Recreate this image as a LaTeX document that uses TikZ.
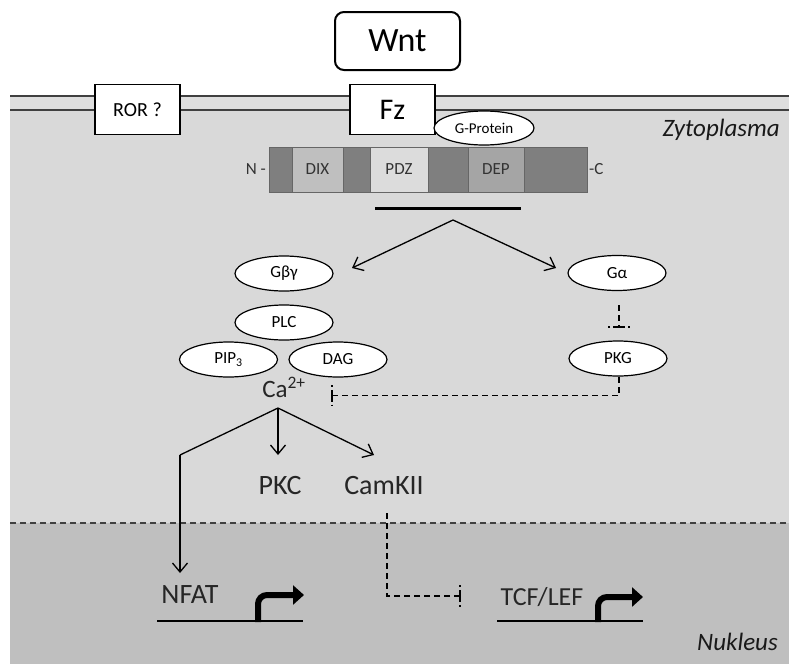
\documentclass[tikz,border=0pt]{standalone}
\usepackage{fontspec}
\setmainfont{Carlito}
\usetikzlibrary{shapes.geometric,arrows.meta}
\definecolor{cyto}{HTML}{D9D9D9}
\definecolor{nucl}{HTML}{BFBFBF}
\definecolor{memb}{HTML}{DEDEDE}
\definecolor{membline}{HTML}{404040}
\definecolor{segdark}{HTML}{7F7F7F}
\definecolor{segdix}{HTML}{BFBFBF}
\definecolor{segpdz}{HTML}{DCDCDC}
\definecolor{segdep}{HTML}{A5A5A5}
\tikzset{
  recbox/.style={draw, fill=white, line width=1.8pt, minimum width=85pt, minimum height=50pt, inner sep=0pt},
  prot/.style={ellipse, draw, fill=white, line width=1.2pt, minimum width=98pt, minimum height=35pt, inner sep=0pt, font=\fontsize{17}{19}\selectfont},
  dombox/.style={draw=segdark!80!black, line width=0.6pt, minimum height=45pt, inner sep=0pt, font=\fontsize{17}{19}\selectfont\color{black!80}},
  bigtxt/.style={inner sep=0pt, font=\fontsize{28}{30}\selectfont\color{black!85}},
  act/.style={line width=1.3pt, -{Straight Barb[length=9pt,width=15pt,line width=1.3pt]}},
  inh/.style={line width=1.5pt, dash pattern=on 6pt off 4pt},
  inhbar/.style={line width=1.5pt, dash pattern=on 6pt off 3pt},
  gene/.style={line width=2.5pt},
  tss/.style={line width=6pt, rounded corners=9pt, -{Triangle[length=11pt,width=19pt]}},
  region/.style={inner sep=0pt, font=\fontsize{25}{27}\selectfont\itshape\color{black!90}},
}
\begin{document}
\begin{tikzpicture}[x=1pt,y=-1pt]
\useasboundingbox (0,0) rectangle (789,664);
\fill[white] (0,0) rectangle (789,664);
% compartments
\fill[cyto] (10,110) rectangle (789,523);
\fill[nucl] (10,523) rectangle (789,664);
\fill[memb] (10,96) rectangle (789,110);
\draw[membline, line width=1.6pt] (10,96) -- (789,96) (10,110) -- (789,110);
\draw[membline, line width=1.3pt, dash pattern=on 6pt off 4pt] (10,523) -- (789,523);
\node[region, anchor=east] (zyto) at (780,130) {Zytoplasma};
\node[region, anchor=east] (nukl) at (778,642) {Nukleus};

% ligand and receptors
\node[draw, fill=white, line width=2pt, rounded corners=9pt, minimum width=125pt, minimum height=58pt, inner sep=0pt,
      font=\fontsize{34}{36}\selectfont] (wnt) at (397.5,41) {Wnt};
\node[recbox, font=\fontsize{20}{22}\selectfont] (ror) at (137.5,109.5) {ROR ?};
\node[recbox, font=\fontsize{30}{32}\selectfont] (fz) at (392.5,109.5) {Fz};
\node[ellipse, draw, fill=white, line width=1.2pt, minimum width=100pt, minimum height=34pt, inner sep=0pt,
      font=\fontsize{15}{17}\selectfont] (gprot) at (484,128) {G-Protein};

% Dishevelled domain bar
\node[dombox, fill=segdark, minimum width=318pt] (dvl) at (428,169.5) {};
\node[dombox, fill=segdix, minimum width=51pt] (dix) at (317.5,169.5) {DIX};
\node[dombox, fill=segpdz, minimum width=58pt] (pdz) at (399,169.5) {PDZ};
\node[dombox, fill=segdep, minimum width=56pt] (dep) at (496,169.5) {DEP};
\node[anchor=east, inner sep=0pt, font=\fontsize{17}{19}\selectfont\color{black!80}] (nterm) at (266,169.5) {N -};
\node[anchor=west, inner sep=0pt, font=\fontsize{17}{19}\selectfont\color{black!80}] (cterm) at (589,169.5) {-C};
\coordinate (barL) at (375,208);
\coordinate (barR) at (521,208);
\draw[line width=3pt] (barL) -- (barR);

% branch to the two G-protein subunits
\coordinate (fork) at (453,220);
\coordinate (tipL) at (352,268);
\coordinate (tipR) at (556,268);
\draw[act] (fork) -- (tipL);
\draw[act] (fork) -- (tipR);

\node[prot] (gbg) at (284,273.5) {Gβγ};
\node[prot] (plc) at (284,322.5) {PLC};
\node[prot] (pip) at (228.5,359.5) {PIP\textsubscript{3}};
\node[prot] (dag) at (338,359.5) {DAG};
\node[prot] (ga) at (617,273) {Gα};
\node[prot] (pkg) at (618,358.5) {PKG};
\node[inner sep=0pt, font=\fontsize{25}{27}\selectfont\color{black!85}] (ca) at (284,387) {Ca\textsuperscript{2+}};

% inhibitory links (dashed stems ending in dashed bars)
\coordinate (gaout) at (619,305);
\coordinate (pkgin) at (619,327);
\draw[inh] (gaout) -- (pkgin);
\draw[inhbar] (pkgin) -- ++(-11,0) (pkgin) -- ++(11,0);
\coordinate (pkgout) at (619,377);
\coordinate (cain) at (332,395.5);
\draw[inh] (pkgout) |- (cain);
\draw[inhbar] (cain) -- ++(0,-10.5) (cain) -- ++(0,10.5);

% calcium effectors
\coordinate (casplit) at (278,408);
\coordinate (bend) at (180,455);
\node[bigtxt] (pkc) at (280,486) {PKC};
\node[bigtxt] (camk) at (384,486) {CamKII};
\node[bigtxt] (nfat) at (190,595) {NFAT};
\node[inner sep=0pt, font=\fontsize{26}{28}\selectfont\color{black!85}] (tcf) at (542,597) {TCF/LEF};
\coordinate (nfatin) at (180,573);
\coordinate (pkcin) at (278,455);
\coordinate (camkin) at (374,455);
\draw[line width=1.3pt] (casplit) -- (bend);
\draw[act] (bend) -- (nfatin);
\draw[act] (casplit) -- (pkcin);
\draw[act] (casplit) -- (camkin);

\coordinate (camkout) at (387,513);
\coordinate (tcfin) at (460,596);
\draw[inh] (camkout) |- (tcfin);
\draw[inhbar] (tcfin) -- ++(0,-11) (tcfin) -- ++(0,11);

% target genes with transcription start arrows
\coordinate (g1a) at (157,621);
\coordinate (g1b) at (303,621);
\draw[gene] (g1a) -- (g1b);
\coordinate (s1a) at (258,622);
\coordinate (s1b) at (258,595);
\coordinate (s1c) at (304,595);
\draw[tss] (s1a) -- (s1b) -- (s1c);
\coordinate (g2a) at (497,621);
\coordinate (g2b) at (643,621);
\draw[gene] (g2a) -- (g2b);
\coordinate (s2a) at (598,622);
\coordinate (s2b) at (598,597);
\coordinate (s2c) at (643,597);
\draw[tss] (s2a) -- (s2b) -- (s2c);
\end{tikzpicture}
\end{document}
